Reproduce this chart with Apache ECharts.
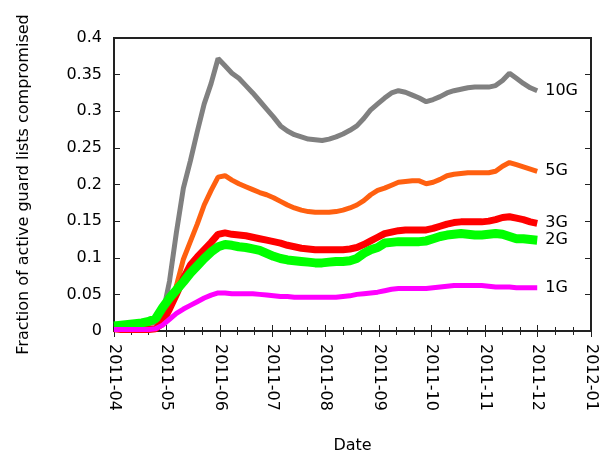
<!DOCTYPE html>
<html><head><meta charset="utf-8">
<script src="https://cdn.jsdelivr.net/npm/echarts@6/dist/echarts.min.js"></script>
<style>html,body{margin:0;padding:0;background:#fff}#c{width:608px;height:459px}</style>
</head><body><div id="c"></div>
<script>
// day offsets from 2011-04-01
const days = [0,4,8,12,16,20,24,28,32,36,40,44,48,52,56,60,64,68,72,76,80,84,88,92,96,100,104,108,112,116,120,124,128,132,136,140,144,148,152,156,160,164,168,172,176,180,184,188,192,196,200,204,208,212,216,220,224,228,232,236,240,244];
const g10 = [0.005,0.006,0.007,0.008,0.008,0.010,0.012,0.022,0.068,0.135,0.195,0.232,0.272,0.310,0.338,0.372,0.362,0.352,0.345,0.335,0.325,0.314,0.303,0.292,0.280,0.273,0.268,0.265,0.262,0.261,0.260,0.262,0.265,0.269,0.274,0.280,0.290,0.302,0.310,0.318,0.325,0.328,0.326,0.322,0.318,0.313,0.316,0.320,0.325,0.328,0.330,0.332,0.333,0.333,0.333,0.335,0.342,0.352,0.345,0.338,0.332,0.328];
const g5 = [0.002,0.002,0.002,0.002,0.002,0.002,0.003,0.008,0.032,0.062,0.098,0.122,0.146,0.172,0.192,0.210,0.212,0.206,0.201,0.197,0.193,0.189,0.186,0.182,0.177,0.172,0.168,0.165,0.163,0.162,0.162,0.162,0.163,0.165,0.168,0.172,0.178,0.186,0.192,0.195,0.199,0.203,0.204,0.205,0.205,0.201,0.203,0.207,0.212,0.214,0.215,0.216,0.216,0.216,0.216,0.218,0.225,0.230,0.227,0.224,0.221,0.218];
const g3 = [0.003,0.002,0.002,0.002,0.002,0.002,0.003,0.012,0.030,0.050,0.072,0.090,0.101,0.111,0.121,0.132,0.134,0.132,0.131,0.130,0.128,0.126,0.124,0.122,0.120,0.117,0.115,0.113,0.112,0.111,0.111,0.111,0.111,0.111,0.112,0.114,0.118,0.123,0.128,0.133,0.135,0.137,0.138,0.138,0.138,0.138,0.140,0.143,0.146,0.148,0.149,0.149,0.149,0.149,0.150,0.152,0.155,0.156,0.154,0.152,0.149,0.147];
const g2 = [0.007,0.008,0.009,0.010,0.011,0.013,0.017,0.032,0.045,0.056,0.067,0.079,0.089,0.099,0.108,0.115,0.118,0.117,0.115,0.114,0.112,0.110,0.106,0.102,0.099,0.097,0.096,0.095,0.094,0.093,0.093,0.094,0.095,0.095,0.096,0.099,0.106,0.111,0.114,0.120,0.121,0.122,0.122,0.122,0.122,0.123,0.126,0.129,0.131,0.132,0.133,0.132,0.131,0.131,0.132,0.133,0.132,0.129,0.126,0.126,0.125,0.124];
const g1 = [0.002,0.002,0.002,0.002,0.002,0.002,0.003,0.008,0.016,0.024,0.030,0.035,0.040,0.045,0.049,0.052,0.052,0.051,0.051,0.051,0.051,0.050,0.049,0.048,0.047,0.047,0.046,0.046,0.046,0.046,0.046,0.046,0.046,0.047,0.048,0.050,0.051,0.052,0.053,0.055,0.057,0.058,0.058,0.058,0.058,0.058,0.059,0.060,0.061,0.062,0.062,0.062,0.062,0.062,0.061,0.060,0.060,0.060,0.059,0.059,0.059,0.059];
const seriesNames = ['10G','5G','3G','2G','1G'];
const seriesColors = ['#808080','#ff6010','#ff0000','#00ff00','#ff00ff'];
const seriesWidths = [5,5,7,9,5];
const yTicks = [0,0.05,0.1,0.15,0.2,0.25,0.3,0.35,0.4];

const start = Date.UTC(2011,3,1);
const DAY = 86400000;
function pairs(vals){ return days.map((d,i)=>[start + d*DAY, vals[i]]); }
const all = [g10,g5,g3,g2,g1];
const FONT = 'DejaVu Sans';
const chart = echarts.init(document.getElementById('c'), null, {renderer:'canvas'});
const xCommon = {
  type:'time', min: Date.UTC(2011,3,1), max: Date.UTC(2012,0,1),
  minInterval: 28*DAY, maxInterval: 31*DAY,
  axisLine:{show:true, lineStyle:{color:'#222', width:2}},
  axisTick:{show:true, inside:true, length:6, lineStyle:{color:'#222', width:1}},
  minorTick:{show:true, splitNumber:3, length:4, lineStyle:{color:'#222', width:1}},
  splitLine:{show:false}
};
const yCommon = {
  type:'value', min:0, max:0.4, interval:0.05,
  axisLine:{show:true, lineStyle:{color:'#222', width:2}},
  axisTick:{show:true, inside:true, length:6, lineStyle:{color:'#222', width:1}},
  splitLine:{show:false}
};
chart.setOption({
  animation:false,
  backgroundColor:'#fff',
  grid:{left:114, right:17, top:38, bottom:123, show:true, borderColor:'#222', borderWidth:2, backgroundColor:'transparent'},
  xAxis:[
    Object.assign({}, xCommon, {
      position:'bottom',
      name:'Date', nameLocation:'middle', nameGap:107,
      nameTextStyle:{fontFamily:FONT, fontSize:16, color:'#000'},
      axisLabel:{rotate:-90, margin:13, fontFamily:FONT, fontSize:16, color:'#000',
        formatter: v => { const d=new Date(v); return d.getUTCFullYear()+'-'+String(d.getUTCMonth()+1).padStart(2,'0'); },
        showMinLabel:true, showMaxLabel:true}
    }),
    Object.assign({}, xCommon, {position:'top', axisLabel:{show:false}})
  ],
  yAxis:[
    Object.assign({}, yCommon, {
      position:'left',
      name:'Fraction of active guard lists compromised', nameLocation:'middle', nameGap:82,
      nameTextStyle:{fontFamily:FONT, fontSize:16, color:'#000'},
      axisLabel:{margin:12, fontFamily:FONT, fontSize:16, color:'#000',
        formatter: v => String(+v.toFixed(2))}
    }),
    Object.assign({}, yCommon, {position:'right', axisLabel:{show:false}})
  ],
  series: seriesNames.map((n,i)=>({
    name:n, type:'line', data:pairs(all[i]), showSymbol:false, symbol:'none',
    xAxisIndex:0, yAxisIndex:0,
    lineStyle:{color:seriesColors[i], width:seriesWidths[i]},
    itemStyle:{color:seriesColors[i]},
    endLabel:{show:true, formatter:n, distance:8, fontFamily:FONT, fontSize:16, color:'#000'}
  }))
});
</script></body></html>
